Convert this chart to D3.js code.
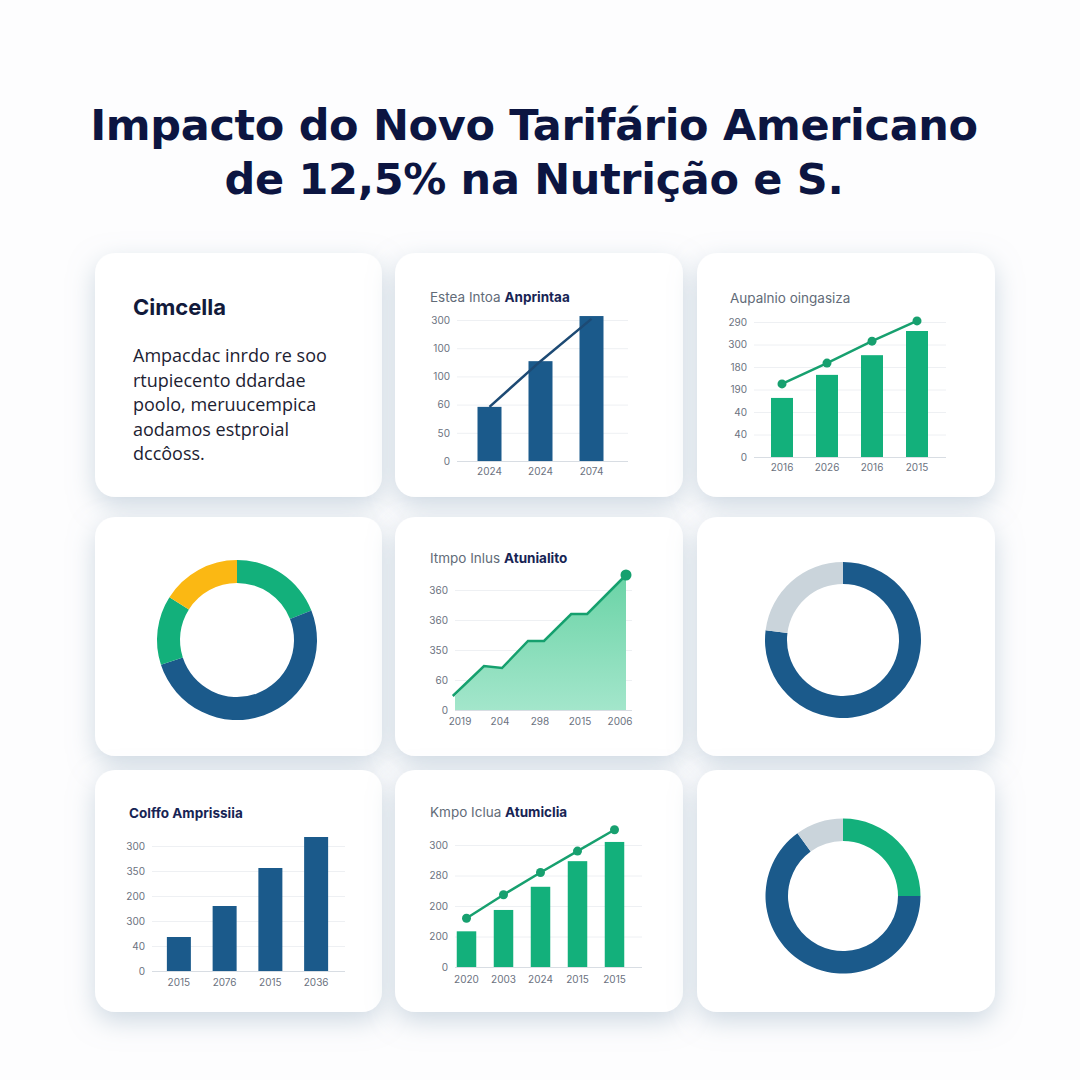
<!DOCTYPE html>
<html>
<head>
<meta charset="utf-8">
<script src="https://cdn.jsdelivr.net/npm/d3@7/dist/d3.min.js"></script>
<style>
  html, body { margin: 0; padding: 0; background: #ffffff; }
  svg { display: block; }
</style>
</head>
<body>
<div id="chart"></div>
<script>
// ---- data ----
const titleLines = ["Impacto do Novo Tarifário Americano", "de 12,5% na Nutrição e S."];

const introTitle = "Cimcella";
const introLines = ["Ampacdac inrdo re soo", "rtupiecento ddardae", "poolo, meruucempica", "aodamos estproial", "dccôoss."];

// card 2 : blue bars + line
const c2Title = ["Estea Intoa ", "Anprintaa"];
const c2Years = ["2024", "2024", "2074"];
const c2Bars = [96, 177, 257];
const c2Line = [96, 177, 252];
const c2Ticks = [0, 50, 100, 150, 200, 250];
const c2TickLabels = ["0", "50", "60", "100", "100", "300"];

// card 3 : green bars + dotted line
const c3Title = ["Aupalnio oingasiza", ""];
const c3Years = ["2016", "2026", "2016", "2015"];
const c3Bars = [105, 146, 181, 224];
const c3Line = [130, 167, 206, 242];
const c3Ticks = [0, 40, 80, 120, 160, 200, 240];
const c3TickLabels = ["0", "40", "40", "190", "180", "300", "290"];

// card 4 : area
const c4Title = ["Itmpo Inlus ", "Atunialito"];
const c4XLabels = ["2019", "204", "298", "2015", "2006"];
const c4X = [-0.18, 0.6, 1.05, 1.7, 2.1, 2.78, 3.18, 4.15];
const c4Y = [42, 132, 126, 207, 207, 288, 288, 405];
const c4Ticks = [0, 90, 180, 270, 360];
const c4TickLabels = ["0", "60", "350", "360", "360"];

// card 5 : blue bars
const c5Title = ["", "Colffo Amprissiia"];
const c5Years = ["2015", "2076", "2015", "2036"];
const c5Bars = [68, 130, 206, 268];
const c5Ticks = [0, 50, 100, 150, 200, 250];
const c5TickLabels = ["0", "40", "300", "200", "350", "300"];

// card 6 : green bars + dotted line
const c6Title = ["Kmpo Iclua ", "Atumiclia"];
const c6Years = ["2020", "2003", "2024", "2015", "2015"];
const c6Bars = [117, 187, 263, 347, 410];
const c6Line = [160, 237, 310, 380, 450];
const c6Ticks = [0, 100, 200, 300, 400];
const c6TickLabels = ["0", "200", "200", "280", "300"];

// donuts
const donut1 = [19, 51, 14, 16];
const donut1Colors = ["#13b07b", "#1b5a8b", "#13b07b", "#fbb813"];
const donut2 = [77, 23];
const donut2Colors = ["#1b5a8b", "#cad4db"];
const donut3 = [25, 65, 10];
const donut3Colors = ["#13b07b", "#1b5a8b", "#cad4db"];

// ---- style ----
const BLUE = "#1b5a8b", GREEN = "#13b07b", NAVY = "#0c1541";
const FONT = "Inter, 'Open Sans', sans-serif";

const svg = d3.select("#chart").append("svg")
  .attr("width", 1080).attr("height", 1080);

const defs = svg.append("defs");
const filt = defs.append("filter").attr("id", "shadow")
  .attr("x", "-30%").attr("y", "-30%").attr("width", "160%").attr("height", "160%");
filt.append("feDropShadow").attr("dx", 0).attr("dy", 9).attr("stdDeviation", 13)
  .attr("flood-color", "#9fb3c6").attr("flood-opacity", 0.5);

const areaGrad = defs.append("linearGradient").attr("id", "areaGrad")
  .attr("x1", 0).attr("y1", 0).attr("x2", 0).attr("y2", 1);
areaGrad.append("stop").attr("offset", "0%").attr("stop-color", "#6ad3a6");
areaGrad.append("stop").attr("offset", "100%").attr("stop-color", "#a3e6cb");

svg.append("rect").attr("width", 1080).attr("height", 1080).attr("fill", "#fdfdfe");

// title
const title = svg.append("g");
titleLines.forEach(function (t, i) {
  title.append("text")
    .attr("x", 534).attr("y", 140 + i * 54)
    .attr("text-anchor", "middle")
    .attr("font-family", "'DejaVu Sans', sans-serif")
    .attr("font-weight", 700)
    .attr("font-size", 43)
    .attr("fill", NAVY)
    .text(t);
});
// fit the title to the reference width with letter spacing
const t0 = title.select("text").node();
const w0 = t0.getComputedTextLength();
const ls = (888 - w0) / (titleLines[0].length - 1);
title.selectAll("text").attr("letter-spacing", ls);

// cards
const cards = [
  [95, 253, 287, 244], [395, 253, 288, 244], [697, 253, 298, 244],
  [95, 517, 287, 239], [395, 517, 288, 239], [697, 517, 298, 239],
  [95, 770, 287, 242], [395, 770, 288, 242], [697, 770, 298, 242]
];
svg.append("g").selectAll("rect").data(cards).join("rect")
  .attr("x", d => d[0]).attr("y", d => d[1])
  .attr("width", d => d[2]).attr("height", d => d[3])
  .attr("rx", 20)
  .attr("fill", "#ffffff")
  .attr("filter", "url(#shadow)");

// card 1 text
svg.append("text").attr("x", 133).attr("y", 315)
  .attr("font-family", FONT).attr("font-weight", 700).attr("font-size", 22)
  .attr("fill", "#121a3b").text(introTitle);
introLines.forEach(function (t, i) {
  svg.append("text").attr("x", 133).attr("y", 362 + i * 24.5)
    .attr("font-family", "'Open Sans', sans-serif").attr("font-size", 18)
    .attr("fill", "#1d2232").text(t);
});

function cardTitle(x, y, parts) {
  const t = svg.append("text").attr("x", x).attr("y", y)
    .attr("font-family", FONT).attr("font-size", 13.5);
  if (parts[0]) t.append("tspan").attr("fill", "#626b78").text(parts[0]);
  if (parts[1]) t.append("tspan").attr("fill", "#172454").attr("font-weight", 700).text(parts[1]);
}

function yAxis(y, ticks, labels, x0, x1) {
  const g = svg.append("g").attr("transform", "translate(" + x0 + ",0)");
  g.call(d3.axisLeft(y).tickValues(ticks)
    .tickFormat((d, i) => labels[i])
    .tickSize(-(x1 - x0)).tickPadding(7));
  g.select(".domain").remove();
  g.selectAll(".tick line").attr("stroke", d => d === 0 ? "#d8dde3" : "#eef0f3").attr("stroke-width", 1);
  g.selectAll(".tick text").attr("font-family", FONT).attr("font-size", 10).attr("fill", "#6b7280");
}

function xLabels(xs, labels, yBase) {
  svg.append("g").selectAll("text").data(labels).join("text")
    .attr("x", (d, i) => xs(i)).attr("y", yBase)
    .attr("text-anchor", "middle")
    .attr("font-family", FONT).attr("font-size", 10).attr("fill", "#6b7280")
    .text(d => d);
}

function barCard(o) {
  const y = d3.scaleLinear().domain(o.domain).range(o.yRange);
  const x = d3.scalePoint().domain(d3.range(o.bars.length)).range(o.xRange).padding(0.5);
  yAxis(y, o.ticks, o.tickLabels, o.grid[0], o.grid[1]);
  svg.append("g").selectAll("rect").data(o.bars).join("rect")
    .attr("x", (d, i) => x(i) - o.bw / 2)
    .attr("y", d => y(d))
    .attr("width", o.bw)
    .attr("height", d => y(0) - y(d))
    .attr("fill", o.color);
  if (o.line) {
    svg.append("path").datum(o.line)
      .attr("fill", "none").attr("stroke", o.lineColor).attr("stroke-width", o.lw)
      .attr("d", d3.line().x((d, i) => x(i)).y(d => y(d)));
    if (o.dots) {
      svg.append("g").selectAll("circle").data(o.line).join("circle")
        .attr("cx", (d, i) => x(i)).attr("cy", d => y(d)).attr("r", o.dots)
        .attr("fill", o.lineColor);
    }
  }
  xLabels(x, o.years, o.labelY);
}

// card 2
cardTitle(430, 302, c2Title);
barCard({
  bars: c2Bars, line: c2Line, years: c2Years, ticks: c2Ticks, tickLabels: c2TickLabels,
  domain: [0, 250], yRange: [461, 320], xRange: [464, 617], grid: [457, 628],
  bw: 24, color: BLUE, lineColor: "#1d4a74", lw: 2.5, dots: 0, labelY: 475
});

// card 3
cardTitle(730, 303, c3Title);
barCard({
  bars: c3Bars, line: c3Line, years: c3Years, ticks: c3Ticks, tickLabels: c3TickLabels,
  domain: [0, 240], yRange: [457, 322], xRange: [759.5, 939.5], grid: [754, 946],
  bw: 22, color: GREEN, lineColor: "#17a06f", lw: 2.5, dots: 4.5, labelY: 471
});

// card 5
cardTitle(129, 818, c5Title);
barCard({
  bars: c5Bars, years: c5Years, ticks: c5Ticks, tickLabels: c5TickLabels,
  domain: [0, 250], yRange: [971, 846], xRange: [156, 339], grid: [152, 345],
  bw: 24, color: BLUE, labelY: 986
});

// card 6
cardTitle(430, 817, c6Title);
barCard({
  bars: c6Bars, line: c6Line, years: c6Years, ticks: c6Ticks, tickLabels: c6TickLabels,
  domain: [0, 400], yRange: [967, 845], xRange: [448, 633], grid: [455, 642],
  bw: 19.5, color: GREEN, lineColor: "#17a06f", lw: 2.5, dots: 4.5, labelY: 983
});

// card 4 area
cardTitle(430, 563, c4Title);
(function () {
  const y = d3.scaleLinear().domain([0, 360]).range([710, 590]);
  const x = d3.scaleLinear().domain([0, 4]).range([460, 620]);
  yAxis(y, c4Ticks, c4TickLabels, 455, 632);
  const pts = c4X.map((d, i) => [d, c4Y[i]]);
  svg.append("path").datum(pts)
    .attr("fill", "url(#areaGrad)")
    .attr("d", d3.area().x(d => Math.max(x(d[0]), 455)).y0(y(0)).y1(d => y(d[1])));
  svg.append("path").datum(pts)
    .attr("fill", "none").attr("stroke", "#15a06e").attr("stroke-width", 2.5)
    .attr("d", d3.line().x(d => x(d[0])).y(d => y(d[1])));
  const last = pts[pts.length - 1];
  svg.append("circle").attr("cx", x(last[0])).attr("cy", y(last[1])).attr("r", 5.5).attr("fill", "#15a06e");
  xLabels(x, c4XLabels, 725);
})();

// donuts
function donut(cx, cy, r0, r1, vals, colors) {
  const pie = d3.pie().sort(null)(vals);
  const arc = d3.arc().innerRadius(r0).outerRadius(r1);
  svg.append("g").attr("transform", "translate(" + cx + "," + cy + ")")
    .selectAll("path").data(pie).join("path")
    .attr("d", arc).attr("fill", (d, i) => colors[i]);
}
donut(237, 640, 57, 80, donut1, donut1Colors);
donut(843, 640, 56, 78, donut2, donut2Colors);
donut(843, 896, 55, 77.5, donut3, donut3Colors);
</script>
</body>
</html>
